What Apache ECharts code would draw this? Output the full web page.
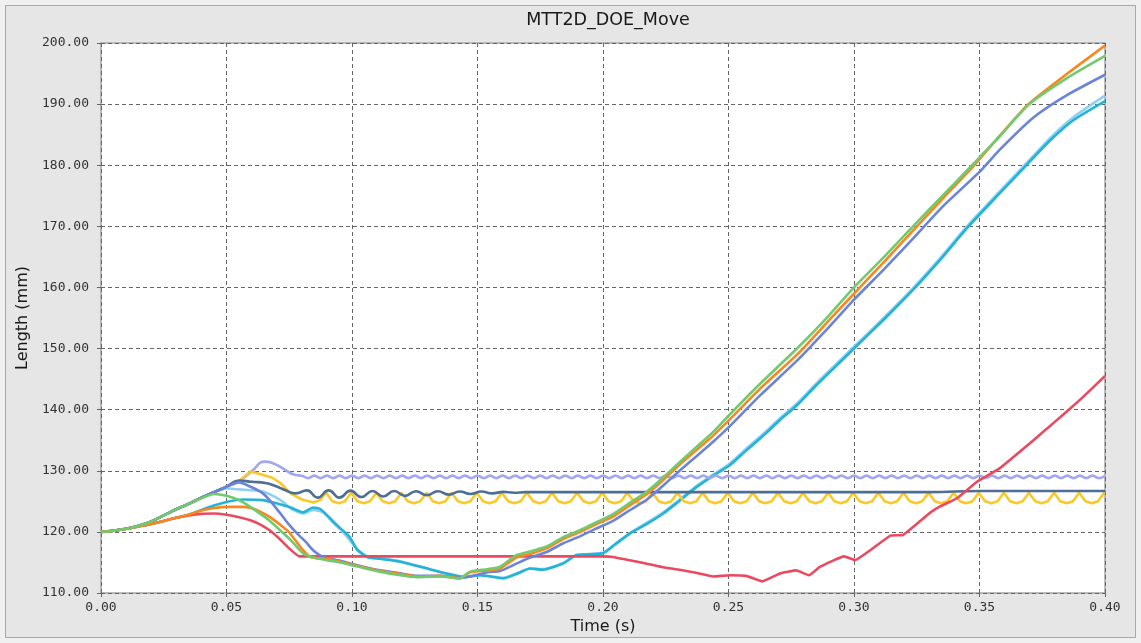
<!DOCTYPE html>
<html>
<head>
<meta charset="utf-8">
<title>MTT2D_DOE_Move</title>
<script src="https://cdn.jsdelivr.net/npm/echarts@6/dist/echarts.min.js"></script>
<style>
  html, body { margin: 0; padding: 0; background: #f0f0f0; }
  #frame { position: absolute; left: 5px; top: 5px; width: 1129px; height: 631px; border: 1px solid #a8a8a8; background: #e6e6e6; }
  #main { position: absolute; left: 0; top: 0; width: 1141px; height: 643px; }
</style>
</head>
<body>
<div id="frame"></div>
<div id="main"></div>
<script>
// x / y ticks
var xMin = 0, xMax = 0.4, xStep = 0.05;
var yMin = 110, yMax = 200, yStep = 10;

// [time (s), length (mm)]
var orangeData = [
  [0,120.0],[0.005,120.2],[0.01,120.5],[0.015,120.9],[0.02,121.3],[0.025,121.8],[0.03,122.3],[0.035,122.8],
  [0.04,123.5],[0.045,123.9],[0.05,124.1],[0.057,124.1],[0.062,123.6],[0.067,122.5],[0.071,121.3],[0.075,119.9],
  [0.0805,117.0],[0.0835,115.9],[0.091,115.5],[0.0975,114.9],[0.1045,114.2],[0.111,113.6],[0.118,113.2],[0.126,112.7],
  [0.135,112.8],[0.143,112.4],[0.147,113.4],[0.154,113.7],[0.159,114.0],[0.1655,115.8],[0.171,116.4],[0.1775,117.3],
  [0.184,118.8],[0.191,120.0],[0.197,121.2],[0.204,122.5],[0.2105,124.3],[0.2175,126.2],[0.224,128.5],[0.2305,131.0],
  [0.237,133.3],[0.244,135.8],[0.25,138.2],[0.2625,143.4],[0.278,149.3],[0.29,154.6],[0.30,159.0],[0.312,164.2],
  [0.3235,169.3],[0.3355,174.6],[0.3475,179.8],[0.358,184.8],[0.3695,190.0],[0.385,195.0],[0.40,199.6]
];
var greenData = [
  [0,120.0],[0.005,120.2],[0.01,120.5],[0.015,121.0],[0.02,121.7],[0.025,122.7],[0.03,123.7],[0.035,124.6],
  [0.04,125.5],[0.045,126.2],[0.05,125.9],[0.055,125.2],[0.0595,124.1],[0.063,123.1],[0.067,121.9],[0.071,120.4],
  [0.0755,118.7],[0.0805,116.5],[0.0845,115.8],[0.091,115.3],[0.0975,114.8],[0.1045,114.1],[0.111,113.5],[0.118,113.0],
  [0.126,112.6],[0.135,112.7],[0.143,112.4],[0.147,113.5],[0.154,113.9],[0.159,114.3],[0.1655,116.2],[0.171,116.8],
  [0.1775,117.6],[0.184,119.1],[0.191,120.3],[0.197,121.5],[0.204,122.9],[0.2105,124.7],[0.2175,126.6],[0.224,128.9],
  [0.2305,131.4],[0.237,133.8],[0.244,136.4],[0.25,139.0],[0.2625,144.2],[0.278,150.3],[0.29,155.4],[0.30,160.0],
  [0.312,165.0],[0.3235,170.0],[0.3355,175.1],[0.3475,180.2],[0.358,184.7],[0.3695,189.9],[0.385,194.3],[0.40,197.9]
];
var royalData = [
  [0,120.0],[0.005,120.2],[0.01,120.5],[0.015,121.0],[0.02,121.7],[0.025,122.7],[0.03,123.7],[0.035,124.6],
  [0.04,125.6],[0.045,126.5],[0.05,127.4],[0.055,128.1],[0.06,127.3],[0.0645,126.3],[0.068,124.8],[0.0715,123.0],
  [0.0745,121.4],[0.078,119.8],[0.0815,118.4],[0.0845,117.0],[0.0885,115.9],[0.095,115.3],[0.1045,114.3],[0.111,113.7],
  [0.118,113.3],[0.126,112.8],[0.135,112.8],[0.143,112.5],[0.147,112.7],[0.154,113.4],[0.159,113.6],[0.1655,114.8],
  [0.171,115.8],[0.1775,116.7],[0.184,118.1],[0.191,119.3],[0.197,120.5],[0.204,121.8],[0.2105,123.5],[0.2175,125.3],
  [0.224,127.6],[0.2305,130.0],[0.237,132.3],[0.244,134.8],[0.25,137.1],[0.2625,142.3],[0.278,148.3],[0.29,153.5],
  [0.30,158.0],[0.312,163.0],[0.3235,168.0],[0.3355,173.3],[0.35,178.9],[0.358,182.5],[0.3715,187.8],[0.385,191.5],[0.40,194.8]
];
var lightBlueData = [
  [0,120.0],[0.005,120.2],[0.01,120.5],[0.015,121.0],[0.02,121.7],[0.025,122.7],[0.03,123.7],[0.035,124.6],
  [0.04,125.6],[0.045,126.5],[0.05,127.1],[0.057,126.9],[0.0645,126.6],[0.0715,125.2],[0.0765,123.6],[0.0805,123.0],
  [0.0845,123.6],[0.0885,123.2],[0.0925,121.5],[0.0965,119.9],[0.102,117.2],[0.106,116.0],[0.111,115.7],[0.118,115.3],
  [0.1245,114.6],[0.131,113.9],[0.1375,113.2],[0.1445,112.7],[0.151,112.9],[0.1605,112.5],[0.166,113.3],[0.171,114.0],
  [0.176,113.9],[0.184,114.9],[0.1895,116.2],[0.2,116.6],[0.205,118.1],[0.211,119.9],[0.2175,121.5],[0.224,123.2],
  [0.2305,125.3],[0.2375,127.6],[0.244,129.4],[0.2505,131.2],[0.257,133.6],[0.264,136.1],[0.2705,138.6],[0.2775,141.1],
  [0.285,144.3],[0.2925,147.3],[0.30,150.3],[0.312,155.1],[0.3235,159.9],[0.3345,164.9],[0.345,170.0],[0.358,175.7],
  [0.3675,179.8],[0.378,184.4],[0.3875,187.9],[0.40,191.4]
];
var cyanData = [
  [0,120.0],[0.005,120.2],[0.01,120.5],[0.015,120.9],[0.02,121.3],[0.025,121.8],[0.03,122.3],[0.035,122.8],
  [0.04,123.6],[0.045,124.3],[0.05,124.9],[0.0565,125.3],[0.0645,125.2],[0.0705,124.6],[0.0755,124.0],[0.0805,123.2],
  [0.0845,124.0],[0.0875,123.7],[0.094,121.1],[0.099,119.2],[0.102,117.1],[0.106,115.9],[0.111,115.6],[0.118,115.2],
  [0.1245,114.6],[0.131,113.9],[0.1375,113.2],[0.1445,112.6],[0.151,112.9],[0.1605,112.4],[0.166,113.2],[0.171,114.0],
  [0.176,113.8],[0.184,114.8],[0.1895,116.2],[0.2,116.5],[0.205,118.0],[0.211,119.8],[0.2175,121.3],[0.224,123.0],
  [0.2305,125.1],[0.2375,127.4],[0.244,129.2],[0.2505,130.9],[0.257,133.3],[0.264,135.8],[0.2705,138.3],[0.2775,140.8],
  [0.285,144.0],[0.2925,147.0],[0.30,150.0],[0.312,154.8],[0.3235,159.6],[0.3345,164.6],[0.345,169.7],[0.358,175.4],
  [0.3675,179.5],[0.378,184.0],[0.3875,187.4],[0.40,190.5]
];
var redData = [
  [0,120.0],[0.005,120.2],[0.01,120.5],[0.015,120.9],[0.02,121.3],[0.025,121.8],[0.03,122.3],[0.035,122.7],
  [0.04,122.95],[0.045,123.0],[0.05,122.8],[0.055,122.4],[0.0595,121.9],[0.0635,121.2],[0.067,120.3],[0.071,118.9],
  [0.0755,117.1],[0.079,116.0],[0.1,116.0],[0.15,116.0],[0.2,116.0],[0.204,115.9],[0.21,115.4],[0.2175,114.8],
  [0.224,114.2],[0.2305,113.8],[0.237,113.3],[0.244,112.7],[0.2505,112.9],[0.257,112.8],[0.2635,111.9],[0.2705,113.2],
  [0.277,113.7],[0.282,112.9],[0.2865,114.3],[0.296,116.0],[0.3005,115.4],[0.3065,117.0],[0.3145,119.4],[0.3195,119.5],
  [0.325,121.3],[0.3305,123.2],[0.3345,124.2],[0.341,125.5],[0.349,128.2],[0.358,130.4],[0.3715,135.0],[0.38,138.0],
  [0.39,141.6],[0.40,145.5]
];
var slateData = [
  [0,120.0],[0.005,120.2],[0.01,120.5],[0.015,121.0],[0.02,121.7],[0.025,122.7],[0.03,123.7],[0.035,124.6],
  [0.04,125.6],[0.045,126.5],[0.05,127.4],[0.055,128.4],[0.06,128.2],[0.0655,128.0],[0.0695,127.5],[0.0735,126.8],
  [0.0775,126.3],[0.082,126.8],[0.0863,125.6],[0.0907,126.8],[0.095,125.6],[0.0994,126.75],[0.1037,125.7],[0.1081,126.7],
  [0.1124,125.8],[0.1168,126.7],[0.1211,125.9],[0.1255,126.65],[0.1298,126.0],[0.1342,126.65],[0.1385,126.1],[0.1429,126.6],
  [0.1472,126.2],[0.1516,126.6],[0.1559,126.3],[0.1603,126.55],[0.1646,126.4],[0.169,126.5],[0.18,126.5],[0.33,126.5],
  [0.35,126.7],[0.40,126.7]
];
var lavenderData = [
  [0,120.0],[0.005,120.2],[0.01,120.5],[0.015,121.0],[0.02,121.7],[0.025,122.7],[0.03,123.7],[0.035,124.6],
  [0.04,125.6],[0.045,126.5],[0.05,127.4],[0.055,128.3],[0.06,129.9],[0.0653,131.5],[0.068,131.3],[0.072,130.5],
  [0.0775,129.3],
  [0.080,129.2],[0.0825,128.8],[0.085,129.2],[0.0875,128.8],[0.090,129.2],[0.0925,128.8],[0.095,129.2],[0.0975,128.8],
  [0.100,129.2],[0.1025,128.8],[0.105,129.2],[0.1075,128.8],[0.110,129.2],[0.1125,128.8],[0.115,129.2],[0.1175,128.8],
  [0.120,129.2],[0.1225,128.8],[0.125,129.2],[0.1275,128.8],[0.130,129.2],[0.1325,128.8],[0.135,129.2],[0.1375,128.8],
  [0.140,129.2],[0.1425,128.8],[0.145,129.2],[0.1475,128.8],[0.150,129.2],[0.1525,128.8],[0.155,129.2],[0.1575,128.8],
  [0.160,129.2],[0.1625,128.8],[0.165,129.2],[0.1675,128.8],[0.170,129.2],[0.1725,128.8],[0.175,129.2],[0.1775,128.8],
  [0.180,129.2],[0.1825,128.8],[0.185,129.2],[0.1875,128.8],[0.190,129.2],[0.1925,128.8],[0.195,129.2],[0.1975,128.8],
  [0.200,129.2],[0.2025,128.8],[0.205,129.2],[0.2075,128.8],[0.210,129.2],[0.2125,128.8],[0.215,129.2],[0.2175,128.8],
  [0.220,129.2],[0.2225,128.8],[0.225,129.2],[0.2275,128.8],[0.230,129.2],[0.2325,128.8],[0.235,129.2],[0.2375,128.8],
  [0.240,129.2],[0.2425,128.8],[0.245,129.2],[0.2475,128.8],[0.250,129.2],[0.2525,128.8],[0.255,129.2],[0.2575,128.8],
  [0.260,129.2],[0.2625,128.8],[0.265,129.2],[0.2675,128.8],[0.270,129.2],[0.2725,128.8],[0.275,129.2],[0.2775,128.8],
  [0.280,129.2],[0.2825,128.8],[0.285,129.2],[0.2875,128.8],[0.290,129.2],[0.2925,128.8],[0.295,129.2],[0.2975,128.8],
  [0.300,129.2],[0.3025,128.8],[0.305,129.2],[0.3075,128.8],[0.310,129.2],[0.3125,128.8],[0.315,129.2],[0.3175,128.8],
  [0.320,129.2],[0.3225,128.8],[0.325,129.2],[0.3275,128.8],[0.330,129.2],[0.3325,128.8],[0.335,129.2],[0.3375,128.8],
  [0.340,129.2],[0.3425,128.8],[0.345,129.2],[0.3475,128.8],[0.350,129.2],[0.3525,128.8],[0.355,129.2],[0.3575,128.8],
  [0.360,129.2],[0.3625,128.8],[0.365,129.2],[0.3675,128.8],[0.370,129.2],[0.3725,128.8],[0.375,129.2],[0.3775,128.8],
  [0.380,129.2],[0.3825,128.8],[0.385,129.2],[0.3875,128.8],[0.390,129.2],[0.3925,128.8],[0.395,129.2],[0.3975,128.8],
  [0.400,129.2]
];
var yellowData = [
  [0,120.0],[0.005,120.2],[0.01,120.5],[0.015,121.0],[0.02,121.7],[0.025,122.7],[0.03,123.7],[0.035,124.6],
  [0.04,125.6],[0.045,126.5],[0.05,127.4],[0.055,128.3],[0.0595,129.9],[0.064,129.4],[0.068,128.9],[0.0715,128.0],
  [0.0755,126.3],[0.08,125.3],[0.0847,124.8],[0.0872,125.2],
  [0.0897,126.4],[0.0922,125.0],[0.0947,124.7],[0.0972,125.0],
  [0.0997,126.4],[0.1022,125.0],[0.1047,124.7],[0.1072,125.0],
  [0.1097,126.4],[0.1122,125.0],[0.1147,124.7],[0.1172,125.0],
  [0.1197,126.4],[0.1222,125.0],[0.1247,124.7],[0.1272,125.0],
  [0.1297,126.4],[0.1322,125.0],[0.1347,124.7],[0.1372,125.0],
  [0.1397,126.4],[0.1422,125.0],[0.1447,124.7],[0.1472,125.0],
  [0.1497,126.4],[0.1522,125.0],[0.1547,124.7],[0.1572,125.0],
  [0.1597,126.4],[0.1622,125.0],[0.1647,124.7],[0.1672,125.0],
  [0.1697,126.4],[0.1722,125.0],[0.1747,124.7],[0.1772,125.0],
  [0.1797,126.4],[0.1822,125.0],[0.1847,124.7],[0.1872,125.0],
  [0.1897,126.4],[0.1922,125.0],[0.1947,124.7],[0.1972,125.0],
  [0.1997,126.4],[0.2022,125.0],[0.2047,124.7],[0.2072,125.0],
  [0.2097,126.4],[0.2122,125.0],[0.2147,124.7],[0.2172,125.0],
  [0.2197,126.4],[0.2222,125.0],[0.2247,124.7],[0.2272,125.0],
  [0.2297,126.4],[0.2322,125.0],[0.2347,124.7],[0.2372,125.0],
  [0.2397,126.4],[0.2422,125.0],[0.2447,124.7],[0.2472,125.0],
  [0.2497,126.4],[0.2522,125.0],[0.2547,124.7],[0.2572,125.0],
  [0.2597,126.4],[0.2622,125.0],[0.2647,124.7],[0.2672,125.0],
  [0.2697,126.4],[0.2722,125.0],[0.2747,124.7],[0.2772,125.0],
  [0.2797,126.4],[0.2822,125.0],[0.2847,124.7],[0.2872,125.0],
  [0.2897,126.4],[0.2922,125.0],[0.2947,124.7],[0.2972,125.0],
  [0.2997,126.4],[0.3022,125.0],[0.3047,124.7],[0.3072,125.0],
  [0.3097,126.4],[0.3122,125.0],[0.3147,124.7],[0.3172,125.0],
  [0.3197,126.4],[0.3222,125.0],[0.3247,124.7],[0.3272,125.0],
  [0.3297,126.4],[0.3322,125.0],[0.3347,124.7],[0.3372,125.0],
  [0.3397,126.4],[0.3422,125.0],[0.3447,124.7],[0.3472,125.0],
  [0.3497,126.4],[0.3522,125.0],[0.3547,124.7],[0.3572,125.0],
  [0.3597,126.4],[0.3622,125.0],[0.3647,124.7],[0.3672,125.0],
  [0.3697,126.4],[0.3722,125.0],[0.3747,124.7],[0.3772,125.0],
  [0.3797,126.4],[0.3822,125.0],[0.3847,124.7],[0.3872,125.0],
  [0.3897,126.4],[0.3922,125.0],[0.3947,124.7],[0.3972,125.0],
  [0.3997,126.4],[0.40,126.3]
];

var seriesList = [
  { name: 'lightBlue', color: '#8fd0f2', data: lightBlueData, smooth: 0.2 },
  { name: 'cyan', color: '#22b4d6', data: cyanData, smooth: 0.2 },
  { name: 'lavender', color: '#a2a8ec', data: lavenderData, smooth: 0.5 },
  { name: 'yellow', color: '#fbc926', data: yellowData, smooth: false },
  { name: 'slate', color: '#4e6e96', data: slateData, smooth: 0.5 },
  { name: 'red', color: '#ea4a60', data: redData, smooth: 0.1 },
  { name: 'royal', color: '#6a84dc', data: royalData, smooth: 0.2 },
  { name: 'orange', color: '#fb861c', data: orangeData, smooth: 0.2 },
  { name: 'green', color: '#72c96e', data: greenData, smooth: 0.2 }
];

var myChart = echarts.init(document.getElementById('main'));
var tickFont = { fontFamily: 'DejaVu Sans Mono', fontSize: 13, color: '#333' };
var nameFont = { fontFamily: 'DejaVu Sans', fontSize: 16, color: '#1a1a1a' };
var dashed = { type: [4, 3], color: '#666', width: 1 };

myChart.setOption({
  animation: false,
  backgroundColor: 'transparent',
  title: {
    text: 'MTT2D_DOE_Move',
    left: 603,
    top: 6,
    textAlign: 'center',
    textStyle: { fontFamily: 'DejaVu Sans', fontSize: 17.5, fontWeight: 'normal', color: '#1a1a1a' }
  },
  grid: {
    left: 101, top: 43, right: 36, bottom: 50,
    show: true, backgroundColor: '#ffffff', borderColor: '#a6a6a6', borderWidth: 1.5
  },
  xAxis: {
    type: 'value', min: xMin, max: xMax, interval: xStep,
    name: 'Time (s)', nameLocation: 'middle', nameGap: 24, nameTextStyle: nameFont,
    axisLine: { show: false },
    axisTick: { show: true, length: 6, lineStyle: dashed },
    axisLabel: Object.assign({ margin: 8, formatter: function (v) { return v.toFixed(2); } }, tickFont),
    splitLine: { show: true, lineStyle: dashed }
  },
  yAxis: {
    type: 'value', min: yMin, max: yMax, interval: yStep,
    name: 'Length (mm)', nameLocation: 'middle', nameGap: 66, nameTextStyle: nameFont,
    axisLine: { show: false },
    axisTick: { show: true, length: 5, lineStyle: dashed },
    axisLabel: Object.assign({ margin: 12, formatter: function (v) { return v.toFixed(2); } }, tickFont),
    splitLine: { show: true, lineStyle: dashed }
  },
  series: seriesList.map(function (s) {
    return {
      name: s.name,
      type: 'line',
      data: s.data,
      smooth: s.smooth,
      showSymbol: false,
      lineStyle: { color: s.color, width: 2.6 },
      itemStyle: { color: s.color },
      emphasis: { disabled: true }
    };
  })
});
</script>
</body>
</html>
